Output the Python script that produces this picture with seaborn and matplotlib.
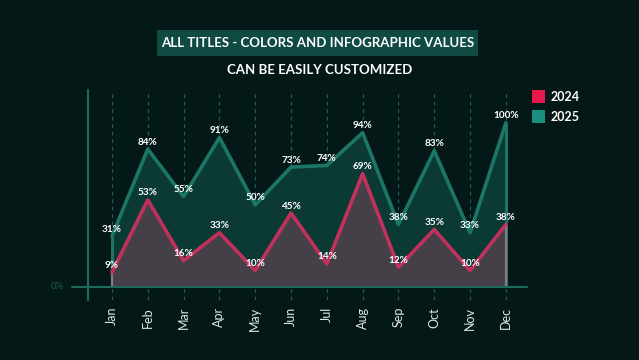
import matplotlib
matplotlib.use("Agg")
import matplotlib.pyplot as plt
import seaborn as sns
import pandas as pd
from matplotlib.patches import Rectangle
import matplotlib.transforms as mtransforms

months = ["Jan", "Feb", "Mar", "Apr", "May", "Jun", "Jul", "Aug", "Sep", "Oct", "Nov", "Dec"]
values_2024 = [9, 53, 16, 33, 10, 45, 14, 69, 12, 35, 10, 38]
values_2025 = [31, 84, 55, 91, 50, 73, 74, 94, 38, 83, 33, 100]
series_names = ["2024", "2025"]
title_text = "ALL TITLES - COLORS AND INFOGRAPHIC VALUES"
subtitle_text = "CAN BE EASILY CUSTOMIZED"

BG = "#041817"
C25_LINE = "#1c7666"
C25_FILL = "#0b3933"
C24_LINE = "#c2315b"
C24_FILL = "#453f48"
C24_EDGE = "#8a7888"
GRID = "#1d5d52"
AXIS = "#1d6b5d"

sns.set_theme(style="dark")
plt.rcParams["font.family"] = ["Lato", "DejaVu Sans"]

W, H = 639, 360
fig = plt.figure(figsize=(W / 100, H / 100), dpi=100, facecolor=BG)

def fx(px):
    return px / W

def fy(py):
    return 1 - py / H

ax = fig.add_axes([fx(88), fy(300), fx(527) - fx(88), (300 - 90) / H])
ax.set_facecolor("none")
for s in ax.spines.values():
    s.set_visible(False)

df = pd.DataFrame({
    "month": months * 2,
    "idx": list(range(12)) * 2,
    "value": values_2024 + values_2025,
    "year": [series_names[0]] * 12 + [series_names[1]] * 12,
})
xs = list(range(len(months)))

# dashed month gridlines
for i in xs:
    ax.axvline(i, color=GRID, lw=0.9, ls=(0, (3, 3)), zorder=0)

# 2025 area
ax.fill_between(xs, 0, values_2025, color=C25_FILL, lw=0, zorder=1)
ax.vlines([xs[0], xs[-1]], 0, [values_2025[0], values_2025[-1]], color=C25_LINE, lw=2.2, zorder=2)
sns.lineplot(data=df[df.year == "2025"], x="idx", y="value", color=C25_LINE, lw=2.6, ax=ax, zorder=3,
             legend=False)

# 2024 area
ax.fill_between(xs, 0, values_2024, color=C24_FILL, lw=0, zorder=4)
ax.vlines([xs[0], xs[-1]], 0, [values_2024[0], values_2024[-1]], color=C24_EDGE, lw=1.6, zorder=5)
sns.lineplot(data=df[df.year == "2024"], x="idx", y="value", color=C24_LINE, lw=2.6, ax=ax, zorder=6,
             legend=False)

ax.set_xlim(-0.67, 11.59)
ax.set_ylim(-8, 120)

# value labels
for vals in (values_2025, values_2024):
    for i, v in zip(xs, vals):
        ax.annotate(f"{v}%", (i, v), xytext=(0, 5), textcoords="offset points",
                    ha="center", va="center", color="white", fontsize=7.2,
                    fontweight="bold", zorder=10)

# axis lines
blend = mtransforms.blended_transform_factory(ax.transAxes, ax.transData)
ax.plot([-0.036, 1.0], [0, 0], transform=blend, color=AXIS, lw=1.5, clip_on=False, zorder=7)
ax.plot([0, 0], [0, 1], transform=ax.transAxes, color=AXIS, lw=1.5, clip_on=False, zorder=7)
ax.text(-0.07, 0, "0%", transform=blend, ha="center", va="center", color="#1f5a50", fontsize=7)

ax.set_xticks(xs)
ax.set_xticklabels(months, rotation=90, color="#e2e6e6", fontsize=9)
ax.tick_params(axis="x", length=0, pad=5)
ax.set_yticks([])
ax.set_xlabel("")
ax.set_ylabel("")
ax.grid(False)

# title box
fig.patches.append(Rectangle((fx(157), fy(56)), fx(478) - fx(157), (56 - 30) / H,
                             transform=fig.transFigure, facecolor="#0f4b42", edgecolor="none"))
fig.text(fx(317.5), fy(43), title_text, ha="center", va="center", color="white",
         fontsize=9.5, fontweight="bold")
fig.text(fx(320), fy(70), subtitle_text, ha="center", va="center", color="white",
         fontsize=9.5, fontweight="bold")

# legend
leg_colors = ["#e8184a", "#1a8f7e"]
for k, (name, col) in enumerate(zip(series_names, leg_colors)):
    top = 90 + k * 20
    fig.patches.append(Rectangle((fx(532), fy(top + 13)), 13 / W, 13 / H,
                                 transform=fig.transFigure, facecolor=col, edgecolor="none"))
    fig.text(fx(551), fy(top + 7), name, ha="left", va="center", color="white",
             fontsize=9, fontweight="bold")

fig.savefig("out.png", dpi=100, facecolor=BG)
